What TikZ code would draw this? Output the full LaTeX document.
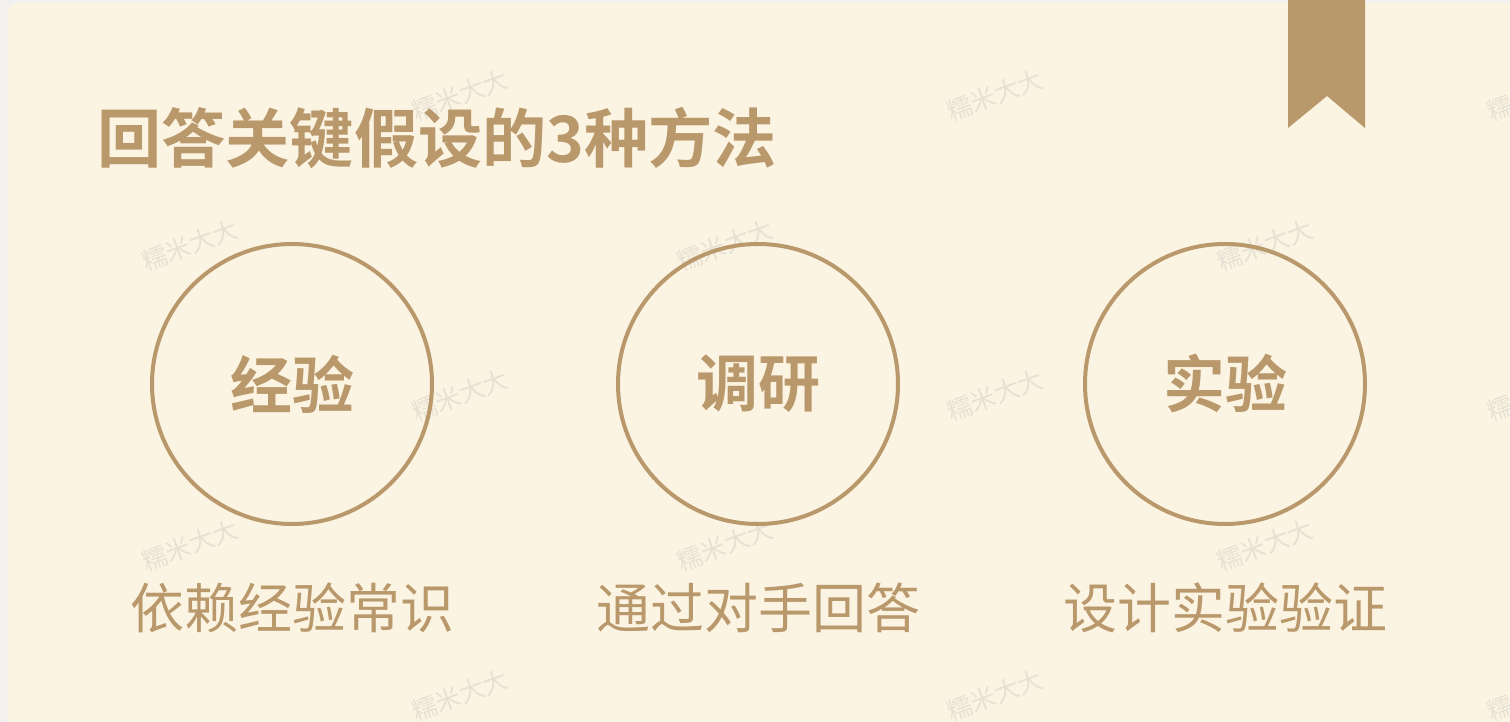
\documentclass[tikz,border=0pt]{standalone}
\usepackage{fontspec}
\newfontfamily\cjk{Noto Sans CJK SC}
\newfontfamily\cjkb{Noto Sans CJK SC Bold}
\definecolor{bgstrip}{HTML}{F2F1EF}
\definecolor{card}{HTML}{FCF4E3}
\definecolor{gold}{HTML}{B9986B}
\definecolor{wm}{HTML}{D9D4CB}
\tikzset{
  title/.style={text=gold, font=\cjkb\fontsize{64.2}{64.2}\selectfont, anchor=west, inner sep=0pt},
  ring/.style={circle, draw=gold, line width=4pt, minimum size=280pt, inner sep=0pt,
     text=gold, font=\cjkb\fontsize{62}{62}\selectfont},
  caption/.style={text=gold, font=\cjk\fontsize{54}{54}\selectfont, inner sep=0pt},
  watermark/.style={text=wm, font=\cjk\fontsize{25}{25}\selectfont, rotate=20, inner sep=0pt, opacity=0.6},
}
\begin{document}
\begin{tikzpicture}[x=1pt,y=-1pt]
\useasboundingbox (0,0) rectangle (1510,722);
\fill[bgstrip] (0,0) rectangle (1510,722);
\fill[card, rounded corners=10pt] (8,3) rectangle (1530,740);
% ribbon
\fill[gold] (1288,0) -- (1365,0) -- (1365,128) -- (1327,96) -- (1288,128) -- cycle;
% watermarks
\foreach \x/\y in {190/245,190/545,460/95,460/395,460/695,725/245,725/545,995/95,995/395,995/695,1265/245,1265/545,1535/95,1535/395,1535/695}
  \node[watermark] at (\x,\y) {糯米大大};
% title
\node[title] (t) at (97,138) {回答关键假设的3种方法};
% circles
\node[ring] (c1) at (292,384) {经验};
\node[ring] (c2) at (758,384) {调研};
\node[ring] (c3) at (1225,384) {实验};
% captions
\node[caption] (l1) at (292,608) {依赖经验常识};
\node[caption] (l2) at (758,608) {通过对手回答};
\node[caption] (l3) at (1225,608) {设计实验验证};
\end{tikzpicture}
\end{document}
